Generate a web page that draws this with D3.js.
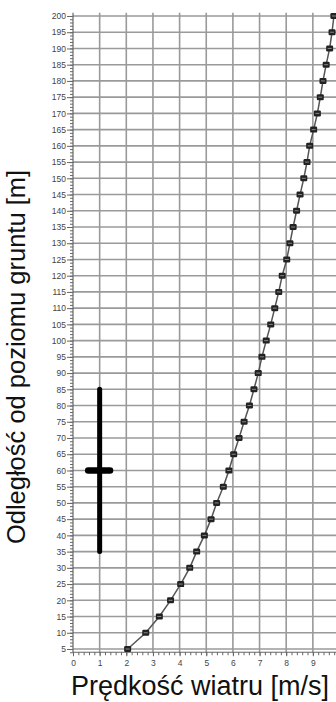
<!DOCTYPE html>
<html><head><meta charset="utf-8">
<script src="https://cdn.jsdelivr.net/npm/d3@7"></script>
<style>
html,body{margin:0;padding:0;background:#fff;}
svg{display:block;}
</style></head>
<body>
<script>
// Data
const heights = [5,10,15,20,25,30,35,40,45,50,55,60,65,70,75,80,85,90,95,100,105,110,115,120,125,130,135,140,145,150,155,160,165,170,175,180,185,190,195,200];
const speeds  = [2.05,2.73,3.24,3.66,4.04,4.38,4.64,4.93,5.18,5.39,5.64,5.85,6.03,6.23,6.42,6.62,6.79,6.95,7.09,7.25,7.42,7.57,7.72,7.85,8.02,8.14,8.26,8.39,8.52,8.66,8.78,8.88,9.03,9.17,9.28,9.38,9.5,9.63,9.72,9.79];
const xTicks = [0,1,2,3,4,5,6,7,8,9];
const yTicks = d3.range(5, 201, 5);
const errX = 1, errY = 60, errYLow = 35, errYHigh = 85, errXLow = 0.57, errXHigh = 1.39;
const xTitle = "Prędkość wiatru [m/s]";
const yTitle = "Odległość od poziomu gruntu [m]";

const W = 336, H = 702;
const svg = d3.select("body").append("svg").attr("width", W).attr("height", H);

const x = d3.scaleLinear().domain([0, 10]).range([73, 339.5]);
const y = d3.scaleLinear().domain([5, 200]).range([649, 16]);
const yBottom = y(4), yTop = y(201);

// grid
const grid = svg.append("g").attr("stroke", "#9a9a9a").attr("stroke-width", 1.6);
grid.selectAll("line.h").data(yTicks).join("line")
  .attr("x1", x(0)).attr("x2", W + 5)
  .attr("y1", d => y(d)).attr("y2", d => y(d));
grid.selectAll("line.v").data(xTicks.concat([10]).filter(d => d > 0)).join("line")
  .attr("x1", d => x(d)).attr("x2", d => x(d))
  .attr("y1", yBottom).attr("y2", yTop);

// y axis
const yAxis = svg.append("g").attr("transform", `translate(${x(0)},0)`);
yAxis.call(d3.axisLeft(y).tickValues(d3.range(4, 201, 1)).tickSize(3).tickFormat(""));
yAxis.call(g => g.select(".domain").remove());
const yMaj = svg.append("g").attr("transform", `translate(${x(0)},0)`)
  .call(d3.axisLeft(y).tickValues(yTicks).tickSize(6).tickPadding(1));
yMaj.select(".domain").attr("d", `M0,${yBottom}V${yTop}`);
svg.selectAll("g.tick line").attr("stroke", "#666");
yMaj.selectAll("text").attr("font-family", "Liberation Sans, Arial, sans-serif").attr("font-size", 8.5).attr("fill", "#444");
yMaj.select(".domain").attr("stroke", "#666").attr("stroke-width", 1.2);

// x axis
const xMin = svg.append("g").attr("transform", `translate(0,${yBottom})`)
  .call(d3.axisBottom(x).tickValues(d3.range(0, 10.01, 0.2)).tickSize(3).tickFormat(""));
xMin.select(".domain").remove();
xMin.selectAll("line").attr("stroke", "#666");
const xMaj = svg.append("g").attr("transform", `translate(0,${yBottom})`)
  .call(d3.axisBottom(x).tickValues(xTicks).tickSize(4).tickPadding(4).tickFormat(d3.format("d")));
xMaj.select(".domain").attr("d", `M${x(0)},0H${W + 5}`).attr("stroke", "#666").attr("stroke-width", 1.2);
xMaj.selectAll("line").attr("stroke", "#666");
xMaj.selectAll("text").attr("font-family", "Liberation Sans, Arial, sans-serif").attr("font-size", 8.5).attr("fill", "#444");

// line
const pts = heights.map((h, i) => [speeds[i], h]);
svg.append("path").datum(pts)
  .attr("fill", "none").attr("stroke", "#555").attr("stroke-width", 1.5)
  .attr("d", d3.line().x(d => x(d[0])).y(d => y(d[1])));

// markers
const mk = svg.append("g");
mk.selectAll("rect").data(pts).join("rect")
  .attr("x", d => x(d[0]) - 3.5).attr("y", d => y(d[1]) - 3)
  .attr("width", 7).attr("height", 6).attr("rx", 1.2)
  .attr("fill", "#222");
mk.selectAll("line").data(pts).join("line")
  .attr("x1", d => x(d[0]) - 2).attr("x2", d => x(d[0]) + 2)
  .attr("y1", d => y(d[1])).attr("y2", d => y(d[1]))
  .attr("stroke", "#888").attr("stroke-width", 1);

// error bar
const eb = svg.append("g").attr("stroke", "#000").attr("stroke-linecap", "round");
eb.append("line").attr("x1", x(errX)).attr("x2", x(errX))
  .attr("y1", y(errYHigh)).attr("y2", y(errYLow)).attr("stroke-width", 5);
eb.append("line").attr("x1", x(errXLow)).attr("x2", x(errXHigh))
  .attr("y1", y(errY)).attr("y2", y(errY)).attr("stroke-width", 6.5);

// titles
svg.append("text").text(xTitle)
  .attr("x", 200).attr("y", 695).attr("text-anchor", "middle")
  .attr("font-family", "Liberation Sans, Arial, sans-serif").attr("font-size", 27).attr("fill", "#111");
svg.append("text").text(yTitle)
  .attr("transform", `translate(25,357) rotate(-90)`).attr("text-anchor", "middle")
  .attr("font-family", "Liberation Sans, Arial, sans-serif").attr("font-size", 25.5).attr("fill", "#111");
</script>
</body></html>
